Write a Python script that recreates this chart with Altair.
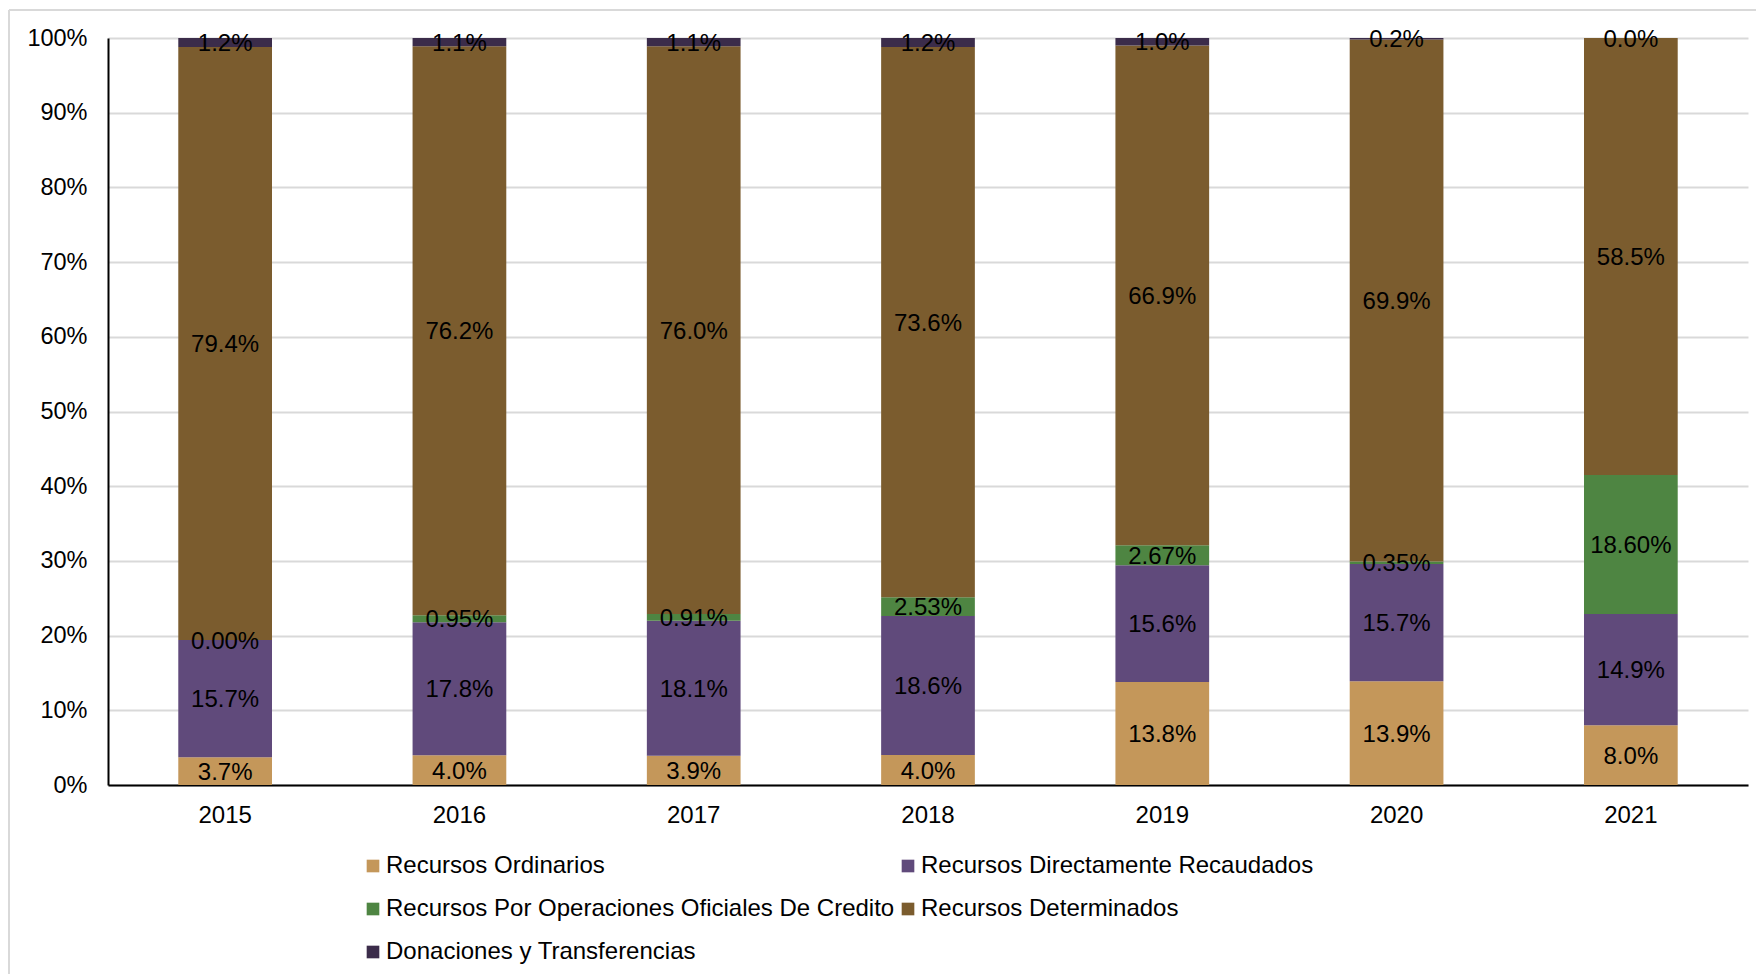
import altair as alt
import pandas as pd

years = ["2015", "2016", "2017", "2018", "2019", "2020", "2021"]
series = [
    "Recursos Ordinarios",
    "Recursos Directamente Recaudados",
    "Recursos Por Operaciones Oficiales De Credito",
    "Recursos Determinados",
    "Donaciones y Transferencias",
]
colors = ["#C4975A", "#604A7B", "#4E8542", "#7B5C2E", "#3B2C4A"]
decimals = [1, 1, 2, 1, 1]
# legend is filled column by column: this order gives the reference's row-wise reading
legend_order = [0, 2, 4, 1, 3]

ordinarios = [3.7, 4.0, 3.9, 4.0, 13.8, 13.9, 8.0]
directamente = [15.7, 17.8, 18.1, 18.6, 15.6, 15.7, 14.9]
credito = [0.00, 0.95, 0.91, 2.53, 2.67, 0.35, 18.60]
determinados = [79.4, 76.2, 76.0, 73.6, 66.9, 69.9, 58.5]
donaciones = [1.2, 1.1, 1.1, 1.2, 1.0, 0.2, 0.0]

all_values = [ordinarios, directamente, credito, determinados, donaciones]

rows = []
for si, (name, vals) in enumerate(zip(series, all_values)):
    for yi, y in enumerate(years):
        v = vals[yi]
        rows.append({
            "year": y,
            "series": name,
            "order": si,
            "value": v,
            "label": f"{v:.{decimals[si]}f}%",
        })
df = pd.DataFrame(rows)

FONT = "Liberation Sans"
FS = 24

base = alt.Chart(df).transform_stack(
    stack="value",
    groupby=["year"],
    sort=[alt.SortField("order", order="ascending")],
    as_=["y0", "y1"],
    offset="normalize",
).transform_calculate(mid="(datum.y0 + datum.y1) / 2")

xenc = alt.X(
    "year:N",
    sort=years,
    scale=alt.Scale(paddingInner=0.6, paddingOuter=0.3),
    axis=alt.Axis(
        title=None, labelAngle=0, ticks=False, domainColor="#000000",
        domainWidth=2, labelFontSize=FS, labelFont=FONT, labelColor="#000000",
        labelPadding=18, grid=False,
    ),
)

bars = base.mark_bar().encode(
    x=xenc,
    y=alt.Y(
        "y0:Q",
        scale=alt.Scale(domain=[0, 1], nice=False),
        axis=alt.Axis(
            title=None, format=".0%", values=[i / 10 for i in range(11)],
            ticks=False, domainColor="#000000", domainWidth=2,
            labelFontSize=23.5, labelFont=FONT, labelColor="#000000",
            labelPadding=21, grid=True, gridColor="#D9D9D9", gridWidth=2,
        ),
    ),
    y2="y1:Q",
    color=alt.Color(
        "series:N",
        scale=alt.Scale(
            domain=[series[i] for i in legend_order],
            range=[colors[i] for i in legend_order],
        ),
        legend=alt.Legend(
            title=None, orient="none", legendX=253, legendY=816, columns=2,
            symbolType="square", symbolSize=160, symbolStrokeWidth=0,
            labelFontSize=FS, labelFont=FONT, labelColor="#000000",
            labelLimit=1000, rowPadding=19, columnPadding=1, labelOffset=1,
        ),
    ),
)

texts = base.mark_text(
    fontSize=FS, font=FONT, color="#000000", baseline="middle", align="center",
    dy=1.5,
).encode(
    x=alt.X("year:N", sort=years),
    y=alt.Y("mid:Q"),
    text="label:N",
)

frame_df = pd.DataFrame({"k": [0]})
left_border = alt.Chart(frame_df).mark_rule(color="#D9D9D9", strokeWidth=2).encode(
    x=alt.value(-99), y=alt.value(-28), y2=alt.value(936)
)
top_border = alt.Chart(frame_df).mark_rule(color="#D9D9D9", strokeWidth=2).encode(
    x=alt.value(-99), x2=alt.value(1648), y=alt.value(-28)
)

chart = alt.layer(left_border, top_border, bars, texts).properties(
    width=1640,
    height=747,
    padding={"left": 8, "top": 9, "right": 0, "bottom": 0},
    background="#FFFFFF",
).configure_view(stroke="transparent")

chart.save("out.html", embed_options={"renderer": "svg", "actions": False})
